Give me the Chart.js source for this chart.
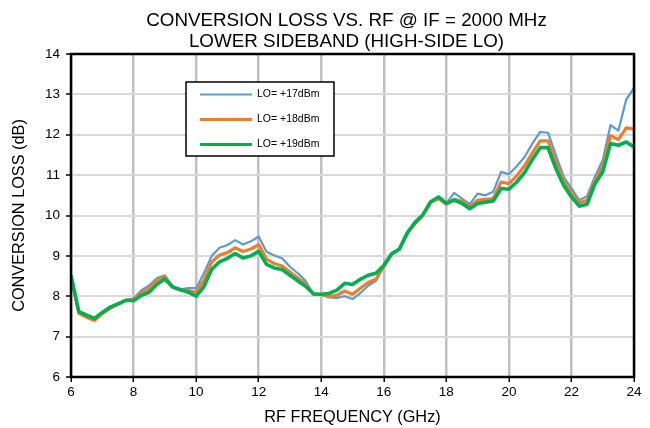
<!DOCTYPE html>
<html>
<head>
<meta charset="utf-8">
<script src="https://cdn.jsdelivr.net/npm/chart.js@4/dist/chart.umd.min.js"></script>
<style>
html,body{margin:0;padding:0;background:#fff;}
#wrap{width:650px;height:428px;}
</style>
</head>
<body>
<div id="wrap"><canvas id="c" width="650" height="428"></canvas></div>
<script>
const freqGHz = [6,6.25,6.5,6.75,7,7.25,7.5,7.75,8,8.25,8.5,8.75,9,9.25,9.5,9.75,10,10.25,10.5,10.75,11,11.25,11.5,11.75,12,12.25,12.5,12.75,13,13.25,13.5,13.75,14,14.25,14.5,14.75,15,15.25,15.5,15.75,16,16.25,16.5,16.75,17,17.25,17.5,17.75,18,18.25,18.5,18.75,19,19.25,19.5,19.75,20,20.25,20.5,20.75,21,21.25,21.5,21.75,22,22.25,22.5,22.75,23,23.25,23.5,23.75,24];
const lo17 = [8.52,7.58,7.5,7.42,7.58,7.72,7.8,7.9,7.95,8.15,8.27,8.45,8.52,8.24,8.17,8.2,8.2,8.57,9.0,9.2,9.27,9.39,9.28,9.36,9.48,9.1,9.01,8.94,8.73,8.57,8.38,8.05,8.04,7.97,7.96,8.0,7.93,8.08,8.26,8.38,8.73,9.04,9.16,9.55,9.8,10.0,10.32,10.43,10.3,10.56,10.42,10.28,10.54,10.5,10.59,11.08,11.02,11.22,11.45,11.78,12.07,12.05,11.5,10.96,10.67,10.38,10.48,10.96,11.37,12.24,12.1,12.87,13.16];
const lo18 = [8.52,7.58,7.48,7.4,7.57,7.7,7.8,7.9,7.92,8.08,8.2,8.4,8.48,8.23,8.16,8.14,8.1,8.4,8.85,9.02,9.08,9.2,9.11,9.17,9.28,8.92,8.81,8.75,8.6,8.45,8.3,8.05,8.04,8.0,8.02,8.13,8.05,8.2,8.34,8.42,8.74,9.04,9.16,9.56,9.8,10.0,10.33,10.42,10.28,10.4,10.35,10.22,10.38,10.4,10.42,10.83,10.79,10.98,11.23,11.55,11.85,11.85,11.33,10.85,10.56,10.31,10.38,10.86,11.22,11.98,11.88,12.17,12.14];
const lo19 = [8.52,7.62,7.53,7.45,7.6,7.73,7.81,7.9,7.89,8.02,8.1,8.3,8.43,8.23,8.16,8.1,8.0,8.24,8.67,8.85,8.94,9.06,8.95,9.0,9.11,8.79,8.7,8.66,8.52,8.38,8.25,8.06,8.05,8.07,8.15,8.32,8.29,8.42,8.52,8.57,8.76,9.05,9.17,9.57,9.83,10.02,10.34,10.46,10.3,10.38,10.3,10.17,10.3,10.33,10.36,10.67,10.65,10.83,11.06,11.39,11.68,11.68,11.17,10.75,10.46,10.23,10.28,10.78,11.08,11.78,11.74,11.82,11.7];
const seriesLabels = ['LO= +17dBm','LO= +18dBm','LO= +19dBm'];
const seriesColors = ['#5b9bd5','#ed7d31','#00b050'];
const titleLines = ['CONVERSION LOSS VS. RF @ IF = 2000 MHz','LOWER SIDEBAND (HIGH-SIDE LO)'];
const xTitle = 'RF FREQUENCY (GHz)';
const yTitle = 'CONVERSION LOSS (dB)';

const FONT = "'Liberation Sans', Arial, sans-serif";
const toXY = (ys) => ys.map((v,i)=>({x:freqGHz[i], y:v}));

const titleDraw = {
  id:'titleDraw',
  afterDraw(chart){
    const ctx = chart.ctx;
    ctx.save();
    ctx.fillStyle = '#000';
    ctx.font = '18.8px ' + FONT;
    ctx.textAlign = 'center';
    ctx.textBaseline = 'alphabetic';
    titleLines.forEach((t,i)=> ctx.fillText(t, 346.5, 25.5 + i*21));
    ctx.restore();
  }
};

const frameLegend = {
  id:'frameLegend',
  afterDatasetsDraw(chart){
    const ctx = chart.ctx, a = chart.chartArea;
    ctx.save();
    ctx.strokeStyle = '#000';
    ctx.lineWidth = 2.5;
    ctx.strokeRect(a.left, a.top, a.right-a.left, a.bottom-a.top);
    // legend box
    const bx = a.left+115, by = a.top+28, bw = 148, bh = 74;
    ctx.fillStyle = '#fff';
    ctx.fillRect(bx, by, bw, bh);
    ctx.lineWidth = 1.5;
    ctx.strokeRect(bx, by, bw, bh);
    const widths = [2.2, 3, 3.2];
    chart.data.datasets.forEach((ds, i) => {
      const yy = by + 12.5 + i*25;
      ctx.strokeStyle = ds.borderColor;
      ctx.lineWidth = widths[i];
      ctx.beginPath();
      ctx.moveTo(bx+14, yy);
      ctx.lineTo(bx+66, yy);
      ctx.stroke();
      ctx.fillStyle = '#000';
      ctx.font = '10.5px ' + FONT;
      ctx.textBaseline = 'middle';
      ctx.textAlign = 'left';
      ctx.fillText(ds.label, bx+71, yy);
    });
    ctx.restore();
  }
};

new Chart(document.getElementById('c'), {
  type:'line',
  data:{
    datasets:[
      {label:seriesLabels[0], data:toXY(lo17), borderColor:seriesColors[0], borderWidth:2.2, order:3},
      {label:seriesLabels[1], data:toXY(lo18), borderColor:seriesColors[1], borderWidth:3.2, order:2},
      {label:seriesLabels[2], data:toXY(lo19), borderColor:seriesColors[2], borderWidth:3.6, order:1}
    ]
  },
  options:{
    responsive:false,
    animation:false,
    devicePixelRatio:1,
    layout:{padding:{left:0,right:16,top:54,bottom:0}},
    elements:{point:{radius:0}, line:{tension:0, borderJoinStyle:'round'}},
    plugins:{
      legend:{display:false},
      tooltip:{enabled:false},
      title:{display:false}
    },
    scales:{
      x:{
        type:'linear', min:6, max:24,
        ticks:{stepSize:2, color:'#000', font:{family:FONT,size:13.5}, padding:2, maxRotation:0},
        grid:{color:'#c0c0c0', lineWidth:2.5, tickColor:'#000', tickLength:5, tickWidth:1.5},
        border:{display:false},
        title:{display:true, text:xTitle, color:'#000', font:{family:FONT,size:16.3}, padding:{top:2,bottom:1}},
        afterFit(s){ s.height = 51; }
      },
      y:{
        min:6, max:14,
        ticks:{stepSize:1, color:'#000', font:{family:FONT,size:13.5}, padding:6},
        grid:{color:'#d9d9d9', lineWidth:2, tickColor:'#000', tickLength:5, tickWidth:1.5},
        border:{display:false},
        title:{display:true, text:yTitle, color:'#000', font:{family:FONT,size:16.3}, padding:{top:10,bottom:4}},
        afterFit(s){ s.width = 71; }
      }
    }
  },
  plugins:[frameLegend, titleDraw]
});
</script>
</body>
</html>
